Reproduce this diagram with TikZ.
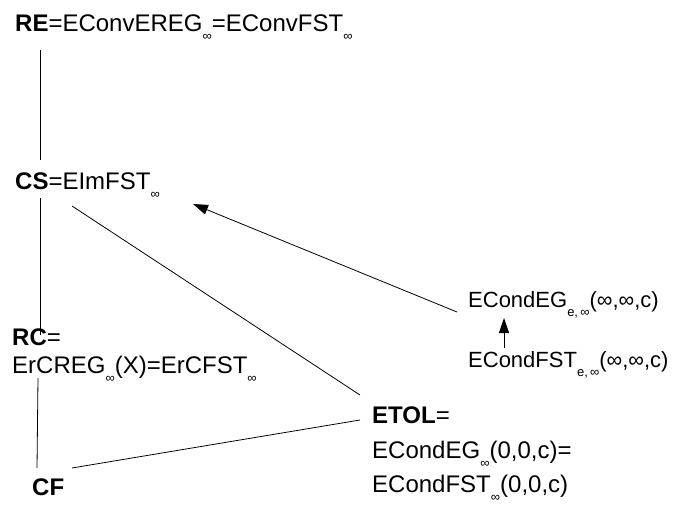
\documentclass[tikz,border=0pt]{standalone}
\usepackage{fontspec}
\setmainfont{Liberation Sans}
\usetikzlibrary{arrows.meta}
% small lowered index, used for the infinity subscripts
\newcommand{\lowsub}[1]{\raisebox{-9pt}{\fontsize{13}{13}\selectfont #1}}
\begin{document}
\begin{tikzpicture}[x=1pt,y=-1pt,
  lbl/.style={anchor=base west,inner sep=0pt,font=\fontsize{24}{28}\selectfont},
  lbls/.style={lbl,font=\fontsize{22}{26}\selectfont},
  link/.style={line width=0.8pt},
  arr/.style={link,-{Triangle[length=15pt,width=10pt]}}]
\useasboundingbox (0,0) rectangle (684,511);

% class labels
\node[lbl]  (re)    at (15,32)  {\textbf{RE}=EConvEREG\lowsub{∞}=EConvFST\lowsub{∞}};
\node[lbl]  (cs)    at (15,189) {\textbf{CS}=EImFST\lowsub{∞}};
\node[lbl]  (rc)    at (12,345) {\textbf{RC}=};
\node[lbl]  (rcb)   at (12,373) {ErCREG\lowsub{∞}(X)=ErCFST\lowsub{∞}};
\node[lbl]  (cf)    at (32,495) {\textbf{CF}};
\node[lbl]  (etol)  at (372,423) {\textbf{ETOL}=};
\node[lbl]  (etolb) at (372,458) {ECondEG\lowsub{∞}(0,0,c)=};
\node[lbl]  (etolc) at (372,492) {ECondFST\lowsub{∞}(0,0,c)};
\node[lbls] (ceg)   at (468,307) {ECondEG\lowsub{e,\,∞}(∞,∞,c)};
\node[lbls] (cfst)  at (468,367) {ECondFST\lowsub{e,\,∞}(∞,∞,c)};

% inclusions
\draw[link] ([xshift=25pt,yshift=-18pt]re.base west) -- ([xshift=25pt,yshift=29pt]cs.base west);
\draw[link] ([xshift=25pt,yshift=-9pt]cs.base west) -- ([xshift=28pt,yshift=10pt]rc.base west);
\draw[link] ([xshift=26pt,yshift=-5pt]rcb.base west) -- ([xshift=5pt,yshift=27pt]cf.base west);
\draw[link] ([xshift=57pt,yshift=-17pt]cs.base west) -- ([xshift=-12pt,yshift=28pt]etol.base west);
\draw[link] ([xshift=40pt,yshift=27pt]cf.base west) -- ([xshift=-12pt,yshift=3pt]etol.base west);
\draw[arr] ([xshift=-11pt,yshift=-5pt]ceg.base west) -- ([xshift=178pt,yshift=-15pt]cs.base west);
\draw[arr] ([xshift=36pt,yshift=19pt]cfst.base west) -- ([xshift=36pt,yshift=-11pt]ceg.base west);
\end{tikzpicture}
\end{document}
